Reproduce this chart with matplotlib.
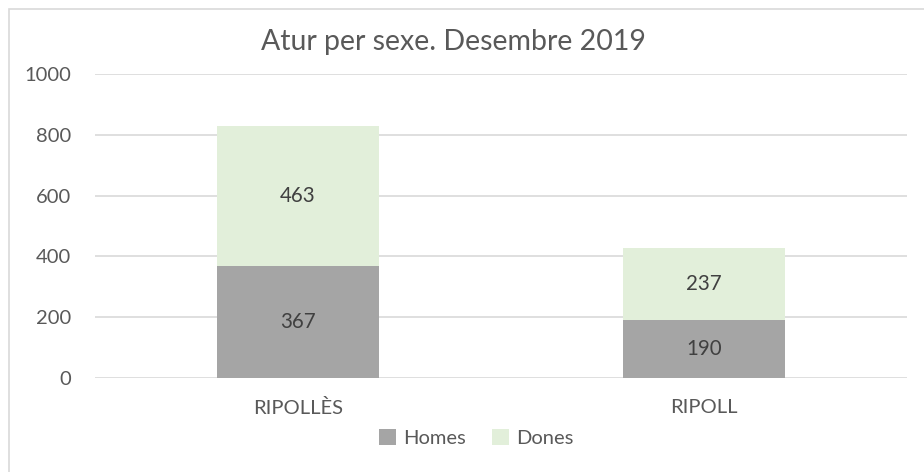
import matplotlib.pyplot as plt
from matplotlib.patches import Rectangle

categories = ['RIPOLLÈS', 'RIPOLL']
homes = [367, 190]
dones = [463, 237]
series_names = ['Homes', 'Dones']
yticks = [0, 200, 400, 600, 800, 1000]

text_col = '#595959'
plt.rcParams['font.family'] = ['Lato', 'DejaVu Sans']

fig = plt.figure(figsize=(9.24, 4.72), dpi=100)
fig.patches.append(Rectangle((9 / 924, -0.1), 1.2, 1 - 9 / 472 + 0.1, transform=fig.transFigure,
                             fill=False, edgecolor='#D9D9D9', linewidth=1.2))
ax = fig.add_axes([95 / 924, 94 / 472, 812 / 924, 304 / 472])

x = range(len(categories))
b1 = ax.bar(x, homes, width=0.4, color='#A5A5A5', label=series_names[0], zorder=2)
b2 = ax.bar(x, dones, width=0.4, bottom=homes, color='#E2EFDA', label=series_names[1], zorder=2)

for bars, vals, base in [(b1, homes, [0, 0]), (b2, dones, homes)]:
    for r, v, b in zip(bars, vals, base):
        ax.text(r.get_x() + r.get_width() / 2, b + v / 2, str(v), ha='center', va='center',
                fontsize=14.8, color='#404040')

ax.set_xlim(-0.5, 1.5)
ax.set_ylim(0, 1000)
ax.set_yticks(yticks)
ax.set_xticks(list(x))
ax.set_xticklabels(categories)
ax.tick_params(length=0, labelsize=14.5, colors=text_col)
ax.tick_params(axis='y', pad=17)
ax.tick_params(axis='x', pad=15)
ax.grid(axis='y', color='#D9D9D9', linewidth=1.2, zorder=0)
for s in ax.spines.values():
    s.set_visible(False)

fig.text(0.491, 1 - 42 / 472, 'Atur per sexe. Desembre 2019', ha='center', va='center',
         fontsize=20.5, color=text_col)
fig.legend(loc='center', bbox_to_anchor=(0.515, 1 - 438 / 472), ncol=2, frameon=False,
           fontsize=14.5, labelcolor=text_col, handlelength=0.85, handleheight=0.85,
           handletextpad=0.35, columnspacing=1.3)

fig.savefig('out.png', dpi=100)
